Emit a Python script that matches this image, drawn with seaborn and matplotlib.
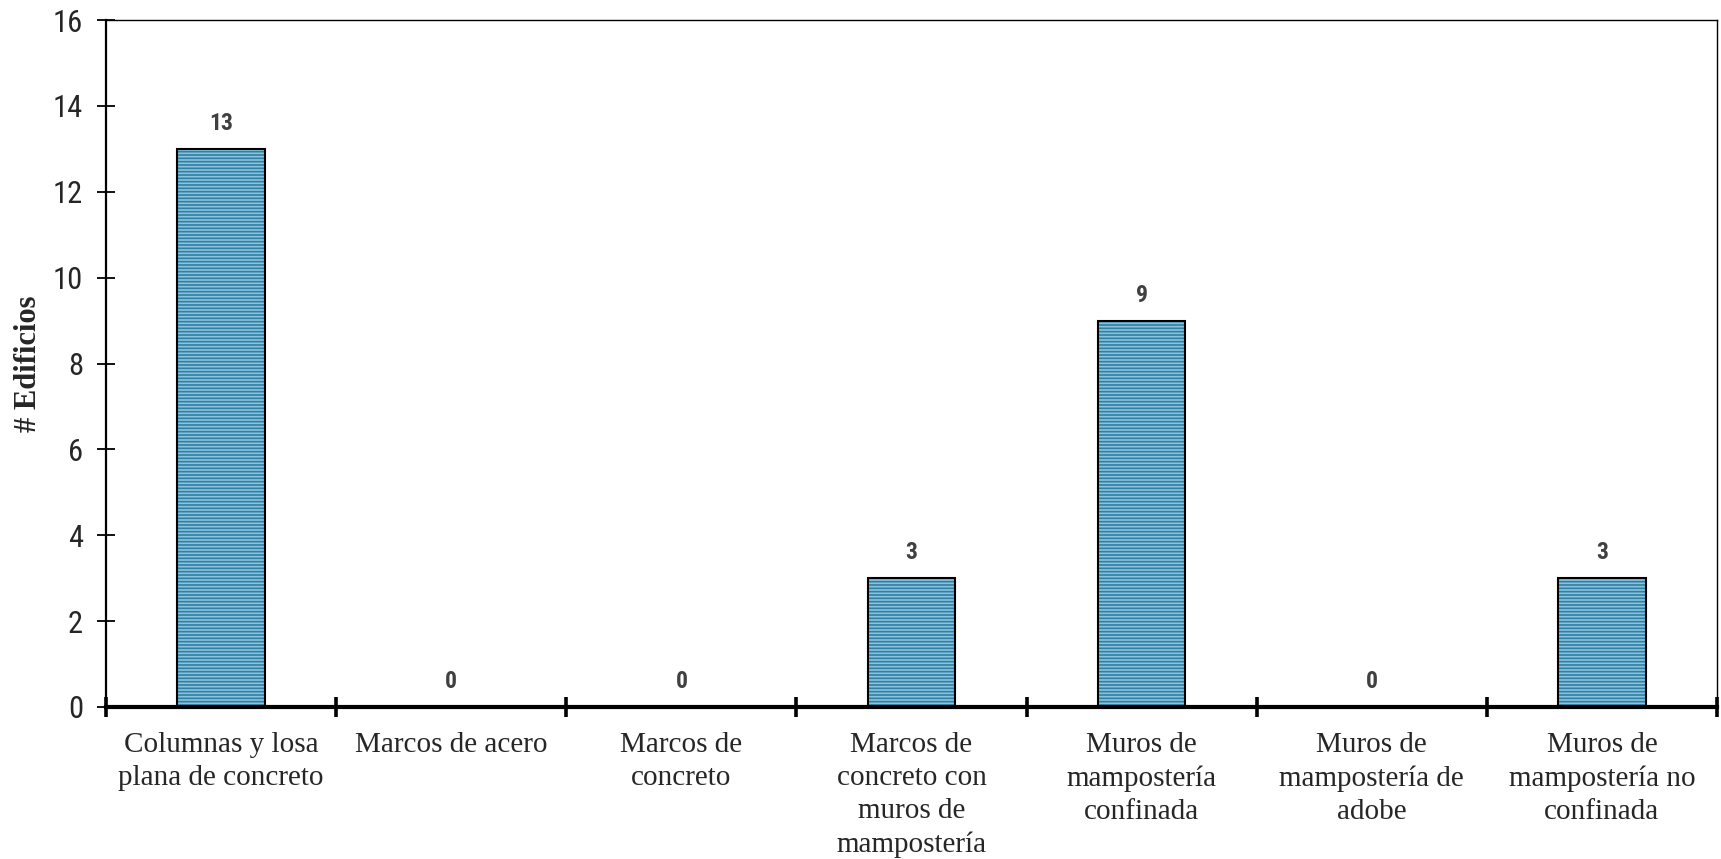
import os
import matplotlib
matplotlib.use('Agg')
import matplotlib.pyplot as plt
from matplotlib import font_manager as fm
import seaborn as sns
import pandas as pd

categories = [
    "Columnas y losa\nplana de concreto",
    "Marcos de acero",
    "Marcos de\nconcreto",
    "Marcos de\nconcreto con\nmuros de\nmampostería",
    "Muros de\nmampostería\nconfinada",
    "Muros de\nmampostería de\nadobe",
    "Muros de\nmampostería no\nconfinada",
]
values = [13, 0, 0, 3, 9, 0, 3]
y_ticks = [0, 2, 4, 6, 8, 10, 12, 14, 16]
y_label = "# Edificios"


def _weight(w):
    if isinstance(w, str):
        return fm.weight_dict.get(w, 400)
    return int(w)


def condensed_font(bold):
    prefs = ["robotocondensed", "liberationsansnarrow", "dejavusanscondensed",
             "notosans", "opensans"]
    best = None
    for f in fm.fontManager.ttflist:
        fn = os.path.basename(f.fname).lower().replace("-", "").replace("_", "")
        nm = f.name.lower()
        cond = ("condensed" in str(f.stretch)) or ("condensed" in fn) or \
               ("narrow" in fn) or ("narrow" in nm) or ("condensed" in nm)
        if not cond or f.style != "normal":
            continue
        if any(k in fn for k in ("semi", "extra", "ultra")):
            continue
        w = _weight(f.weight)
        target = 700 if bold else 400
        score = abs(w - target)
        rank = len(prefs)
        for i, p in enumerate(prefs):
            if fn.startswith(p) or nm.replace(" ", "").startswith(p):
                rank = i
                break
        key = (rank, score)
        if best is None or key < best[0]:
            best = (key, f.fname)
    if best is None:
        return fm.FontProperties(family="DejaVu Sans",
                                 weight="bold" if bold else "normal")
    return fm.FontProperties(fname=best[1])


sns.set_style("white")
plt.rcParams["hatch.linewidth"] = 1.2
serif = ["Liberation Serif", "DejaVu Serif"]

fp_tick = condensed_font(False)
fp_tick.set_size(22)
fp_val = condensed_font(True)
fp_val.set_size(17)

df = pd.DataFrame({"cat": categories, "val": values})

fig = plt.figure(figsize=(17.21, 8.59), dpi=100)
ax = fig.add_axes([0.0616, 0.177, 0.9361, 0.7996])

sns.barplot(data=df, x="cat", y="val", color="#8cc3dc", saturation=1,
            width=0.38, edgecolor="#2f7fa6", linewidth=0, hatch="-----",
            ax=ax, zorder=2)
sns.barplot(data=df, x="cat", y="val", fill=False, width=0.38,
            edgecolor="black", linewidth=1.5, ax=ax, zorder=3)

ax.bar_label(ax.containers[0], fmt="%d", padding=10,
             fontproperties=fp_val, color="#404040")

ax.set_xlim(-0.5, len(categories) - 0.5)
ax.set_ylim(0, 16)
ax.set_yticks(y_ticks)
ax.set_yticklabels([str(t) for t in y_ticks])
for lbl in ax.get_yticklabels():
    lbl.set_fontproperties(fp_tick)
ax.tick_params(axis="y", direction="inout", length=13, width=1.3,
               pad=10, left=True, color="black")

ax.set_xticks(range(len(categories)))
ax.set_xticklabels(categories, family=serif, fontsize=21,
                   linespacing=1.36)
ax.set_xticks([i - 0.5 for i in range(len(categories) + 1)], minor=True)
ax.tick_params(axis="x", which="major", length=0, pad=18)
ax.tick_params(axis="x", which="minor", direction="inout", length=14,
               width=2.6, bottom=True, color="black")

ax.set_xlabel("")
ax.set_ylabel(y_label, family=serif, fontsize=22, fontweight="bold")
ax.yaxis.set_label_coords(-0.039, 0.5)

for side, lw in [("left", 1.6), ("bottom", 3.0), ("top", 1.0), ("right", 1.0)]:
    ax.spines[side].set_visible(True)
    ax.spines[side].set_linewidth(lw)
    ax.spines[side].set_color("black")
ax.spines["bottom"].set_zorder(5)

fig.savefig("out.png", dpi=100)
